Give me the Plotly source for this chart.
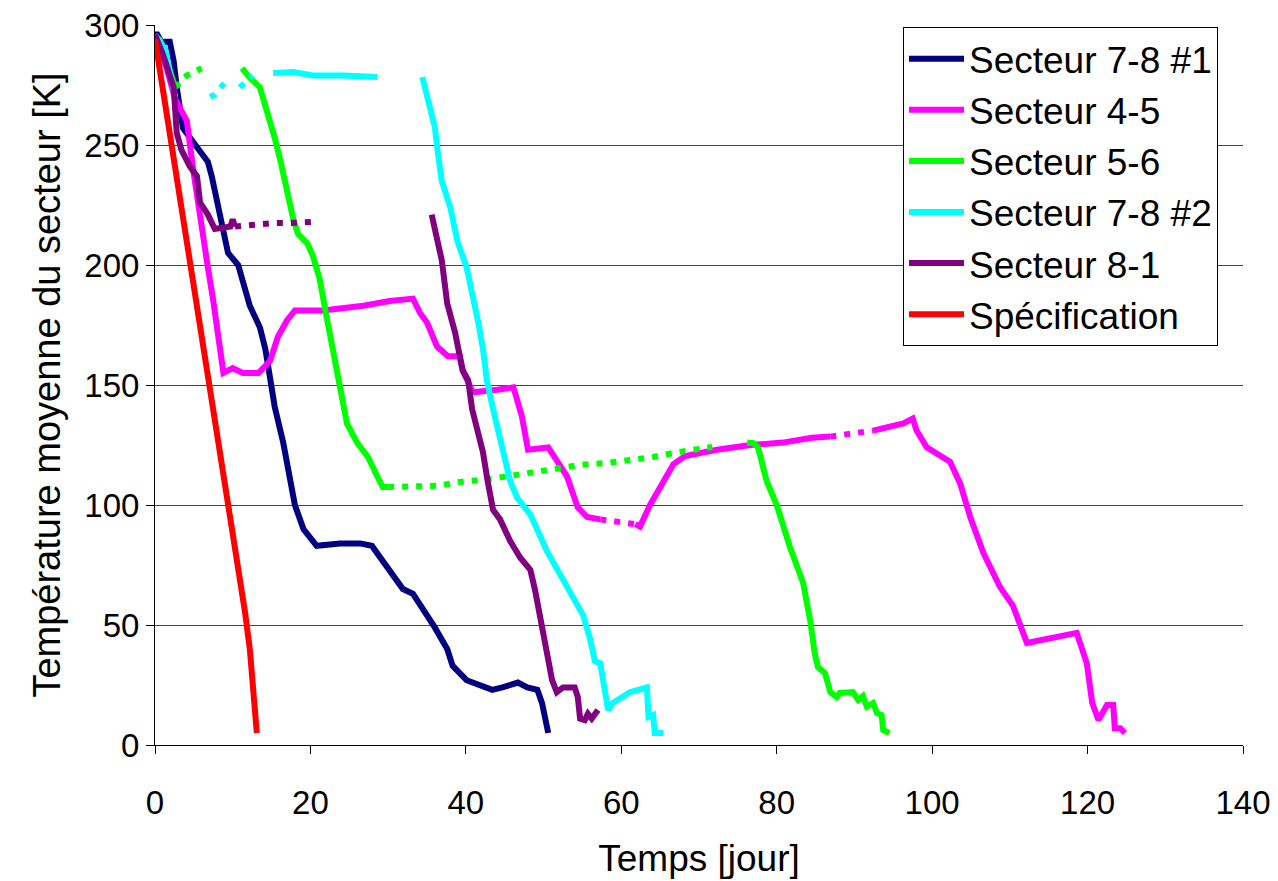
import plotly.graph_objects as go

# ---------------- data ----------------
# Secteur 7-8 #1
s781_x = [0, 0.3, 1.0, 1.3, 1.9, 2.4, 2.8, 3.6, 4.5, 5.8, 6.8, 7.3, 8.1, 9.0, 9.4, 10.7, 11.2,
          12.2, 13.5, 14.2, 14.8, 15.4, 16.5, 17.6, 18.0, 19.1, 20.8, 23.8, 26.4, 27.9, 29.0,
          30.2, 31.9, 33.2, 34.5, 36.0, 37.6, 38.3, 40.1, 41.8, 43.4, 44.7, 46.7, 47.9, 49.2,
          49.8, 50.4, 50.6]
s781_y = [296, 296, 292, 293, 293, 285, 274, 257, 253, 247, 243, 237, 224, 212, 205, 200, 194,
          183, 174, 165, 153, 141, 126, 109, 100, 90, 83, 84, 84, 83, 78,
          72, 65, 63, 57, 49, 40, 33, 27, 25, 23, 24, 26, 24, 23,
          17.5, 7.5, 5]

# Secteur 4-5 (None = break before a sparse/dotted stretch)
s45_x = [0, 1.5, 2.6, 4.1, 4.9, 5.8, 6.8, 7.5, 8.4, 8.8, 10.0, 11.3, 13.3, 14.8, 15.8, 17.0,
         18.0, 21.6, 26.8, 30.2, 33.2, 34.1, 35.0, 36.3, 37.7, 39.2, 39.6, 40.9, 44.0, 46.1,
         46.3, 47.2, 48.0, 49.9, 50.6, 53.0, 54.4, 55.6, 57.3, None,
         61.8, 62.4, 63.7, 65.4, 66.7, 68.2, 72.3, 76.6, 80.8, 84.5, 86.9, None,
         92.4, 94.6, 96.3, 97.5, 98.0, 99.3, 101.0, 102.3, 103.6, 104.5, 104.9, 106.6, 108.7,
         110.4, 112.2, 118.6, 119.9, 120.6, 121.4, 122.5, 123.3, 123.5, 124.2, 124.8]
s45_y = [294, 282, 269, 260, 240, 219, 199, 185, 165, 155, 157, 155, 155, 160, 170, 177,
         181, 181, 183, 185, 186, 180, 176, 166, 162, 162, 156, 147, 148, 149,
         147, 137, 123, 124, 124, 112, 99, 95, 94, None,
         92, 91, 100, 110, 117, 120.4, 123, 125, 126, 128, 128.5, None,
         131, 133, 134, 136, 131, 124, 121, 118, 109, 99, 95, 80, 66,
         58, 42.5, 46.7, 34, 17.5, 10.4, 16.7, 16.7, 7, 7, 5]
s45_dot_x = [57.3, 59.5, 61.8, None, 86.9, 87.9, 89.4, 90.7, 92.4]
s45_dot_y = [94, 93, 92, None, 128.5, 129, 130, 130.4, 131]

# Secteur 5-6
s56_x = [0, 0.6, 1.5, 2.6, None,
         11.2, 12.2, 13.5, 14.4, 15.4, 16.1, 17.0, 17.8, 18.4, 19.6, 20.3, 21.2, 22.1, 23.2,
         24.1, 24.7, 26.0, 27.4, 28.6, 29.3, 30.0, None,
         76.2, 77.0, 77.6, 78.7, 80.0, 81.7, 83.4, 84.3, 84.9, 85.3, 86.2, 86.9, 87.7, 88.1,
         89.8, 90.5, 91.1, 91.6, 92.4, 92.9, 93.5, 93.7, 94.5]
s56_y = [295, 294, 285, 274, None,
         282, 278, 274, 265, 253, 244, 230, 219, 213, 209, 204, 194, 178, 160,
         144, 134, 126, 120, 112, 107.5, 107.5, None,
         126, 125.8, 124, 110, 100, 82.5, 67.5, 52, 38, 32.5, 30, 22, 20, 21.7,
         22, 18.7, 20.4, 16, 17.5, 13.3, 12.5, 6.2, 5]
s56_dot_x = [2.6, 4.1, 6.0, None, 30.0, 31.9, 36.4, 39.2, 43.5, 47.4, 51.2, 54.7, 58.2, 61.5,
             64.1, 67.2, 70.1, 71.7]
s56_dot_y = [274, 279, 282, None, 107.5, 107.5, 108, 109.6, 111, 113, 115, 116.7, 117.5, 118.7,
             120, 122, 123.7, 124.2]

# Secteur 7-8 #2
s782_x = [0, 1.3, 2.6, None,
          15.2, 17.8, 20.3, 24.2, 28.6, None,
          34.4, 35.1, 36.0, 36.4, 36.9, 38.0, 38.9, 40.1, 40.9, 41.6, 42.2, 42.7, 43.5, 44.4,
          45.7, 46.6, 48.3, 50.4, 52.5, 55.1, 56.0, 56.6, 57.3, 58.3, 58.9, 61.1, 63.3, 63.5,
          64.1, 64.3, 65.4]
s782_y = [296, 290, 270, None,
          280, 280.4, 279, 279, 278.3, None,
          278.3, 270, 257.5, 246.7, 235, 224, 210, 199, 188, 176, 165, 152, 140, 127,
          110, 103, 96, 81, 69, 54, 44, 35, 34, 14.6, 17.5, 22, 24, 11.7,
          12.5, 5, 5]
s782_dot_x = [7.1, 7.7, 9.0, None, 10.9, 12.6, None, 15.2, 15.2]
s782_dot_y = [270, 271, 276, None, 274, 279, None, 280, 280]

# Secteur 8-1
s81_x = [0, 1.1, 2.4, 2.8, 3.4, 4.5, 5.4, 5.8, 6.8, 7.7, 8.6, 9.7, 10.0, 10.3, None,
         35.6, 36.4, 36.9, 37.6, 38.6, 39.6, 40.3, 40.8, 42.2, 42.8, 43.5, 44.4, 45.7, 47.0,
         48.3, 48.9, 49.8, 50.6, 51.1, 51.7, 52.5, 54.0, 54.4, 54.7, 55.3, 55.7, 56.2, 57.0]
s81_y = [296, 287, 274, 255, 248, 241, 237, 226, 221, 215, 215.5, 216, 219, 216, None,
         221, 210, 202, 184, 172, 156, 152, 140, 122, 110, 98, 94, 85, 78,
         73, 64.6, 49, 35, 27, 22, 24, 24, 20, 11, 10.4, 13, 11, 14.6]
s81_dot_x = [10.3, 11.3, 13.5, 15.4, 17.4, 19.0, 20.6]
s81_dot_y = [216, 216.3, 217, 217.5, 217.5, 218, 218]

# Spécification
spec_x = [0, 4.3, 7.1, 9.4, 11.0, 11.6, 12.2, 12.7, 13.1]
spec_y = [294, 206, 151, 103, 70, 55, 40, 22, 5]

names = ["Secteur 7-8 #1", "Secteur 4-5", "Secteur 5-6", "Secteur 7-8 #2", "Secteur 8-1",
         "Spécification"]
colors = ["#000080", "#FF00FF", "#00FF00", "#00FFFF", "#800080", "#FF0000"]

series = [
    (s781_x, s781_y, None, None),
    (s45_x, s45_y, s45_dot_x, s45_dot_y),
    (s56_x, s56_y, s56_dot_x, s56_dot_y),
    (s782_x, s782_y, s782_dot_x, s782_dot_y),
    (s81_x, s81_y, s81_dot_x, s81_dot_y),
    (spec_x, spec_y, None, None),
]

FONT = "Liberation Sans, Arial, sans-serif"
LW = 6

fig = go.Figure()
for i, (name, col, (x, y, dx, dy)) in enumerate(zip(names, colors, series)):
    fig.add_trace(go.Scatter(x=x, y=y, mode="lines", name=name, legendgroup=name,
                             line=dict(color=col, width=LW), connectgaps=False))
    if dx is not None:
        fig.add_trace(go.Scatter(x=dx, y=dy, mode="lines", name=name, legendgroup=name,
                                 showlegend=False,
                                 line=dict(color=col, width=LW, dash="6px,8px"),
                                 connectgaps=False))

fig.update_layout(
    width=1278, height=881,
    margin=dict(l=155, r=35, t=25, b=136, autoexpand=False),
    paper_bgcolor="white", plot_bgcolor="white",
    font=dict(family=FONT, color="black", size=33),
    showlegend=True,
    legend=dict(
        x=0.6875, y=0.997, xanchor="left", yanchor="top",
        bgcolor="white", bordercolor="black", borderwidth=1,
        font=dict(family=FONT, size=37, color="black"),
        itemwidth=55, tracegroupgap=0, traceorder="grouped",
    ),
)
fig.update_xaxes(
    range=[0, 140], dtick=20, tick0=0, showgrid=False, zeroline=False, automargin=False,
    showline=True, linecolor="black", linewidth=1,
    ticks="outside", ticklen=8, tickcolor="black", ticklabelstandoff=20,
    tickfont=dict(size=33, family=FONT),
    title=dict(text="Temps [jour]", font=dict(size=37, family=FONT), standoff=25),
)
fig.update_yaxes(
    range=[0, 300], dtick=50, tick0=0, showgrid=True, gridcolor="#444444", gridwidth=1,
    zeroline=False, showline=True, linecolor="black", linewidth=1, automargin=False,
    ticks="outside", ticklen=8, tickcolor="black", ticklabelstandoff=0,
    tickfont=dict(size=33, family=FONT),
    title=dict(text="Température moyenne du secteur [K]", font=dict(size=38, family=FONT),
               standoff=12),
)

fig.write_html("out.html")
